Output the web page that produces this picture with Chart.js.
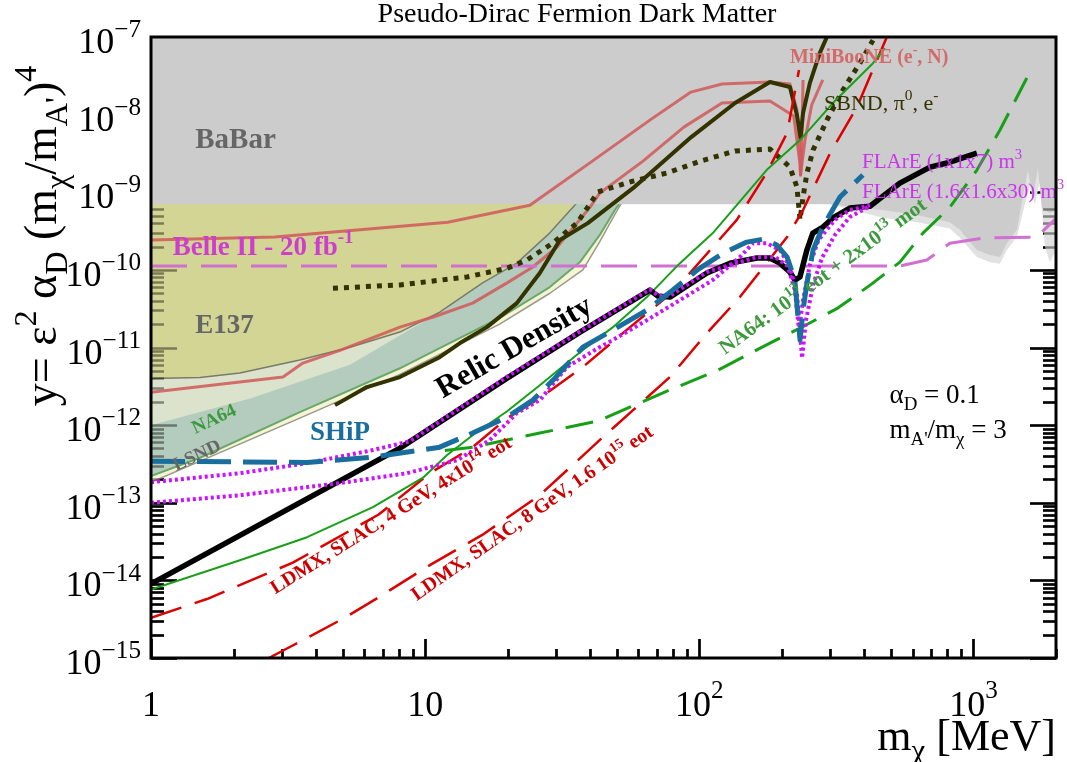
<!DOCTYPE html>
<html>
<head>
<meta charset="utf-8">
<script src="https://cdn.jsdelivr.net/npm/chart.js"></script>
<style>
  html, body { margin: 0; padding: 0; background: #ffffff; }
  #wrap { width: 1067px; height: 762px; }
</style>
</head>
<body>
<div id="wrap"><canvas id="c" width="1067" height="762"></canvas></div>
<script>
// ---- axis ticks ----
const xTickValues = [1, 10, 100, 1000];
const xTickLabels = [[['1']], [['10']], [['10'], ['2', 'sup']], [['10'], ['3', 'sup']]];
const yTickExponents = [-7, -8, -9, -10, -11, -12, -13, -14, -15];

// ---- excluded regions (lower boundaries, m_chi in MeV, y) ----
const babarLimit = [[1, 7e-10], [300, 7e-10], [467, 5.9e-10], [622, 5.1e-10], [820, 4.1e-10], [892, 3.3e-10], [1029, 1.8e-10], [1148, 1.55e-10], [1248, 1.46e-10], [1324, 2.2e-10], [1440, 3.3e-10], [1514, 8.7e-10], [1579, 1.9e-9], [1647, 8.7e-10], [1718, 2.05e-9], [1776, 6.2e-10], [1900, 5.4e-10], [2000, 5.9e-10]];
const babarHalo = [[300, 7e-10], [467, 4.7e-10], [622, 4.1e-10], [820, 3.4e-10], [892, 2.6e-10], [1029, 1.46e-10], [1148, 1.25e-10], [1248, 1.2e-10], [1324, 1.8e-10], [1440, 2.65e-10], [1540, 7e-10], [1606, 1.2e-9], [1675, 7e-10], [1747, 1.4e-9], [1821, 2.0e-10], [1900, 1.25e-10], [2000, 1.8e-10]];
const e137Limit = [[1, 4.0e-12], [1.51, 4.1e-12], [2.11, 4.7e-12], [3.49, 6.9e-12], [5.32, 1.01e-11], [8.09, 1.58e-11], [11.3, 2.86e-11], [16.2, 6.8e-11], [21.6, 1.22e-10], [28.5, 3.0e-10], [35.8, 7.3e-10]];
const lsndUpper = [[1, 1.0e-12], [2.3, 2.2e-12], [5.32, 6.0e-12], [11.3, 2.86e-11]];
const na64Limit = [[1, 2.2e-13], [1.51, 3.8e-13], [3.49, 1.47e-12], [8.09, 5.4e-12], [11.3, 9.8e-12], [18.7, 2.4e-11], [28.5, 6.0e-11], [36.7, 1.26e-10], [43.3, 2.8e-10], [49.2, 5.9e-10], [52.2, 7.9e-10]];
const lsndLimit = [[1, 1.84e-13], [3.49, 1.23e-12], [8.09, 4.5e-12], [18.7, 2.0e-11], [28.5, 5.0e-11], [37.6, 1.0e-10], [43.3, 2.3e-10], [49.2, 5.2e-10], [52.8, 7.9e-10]];

// ---- existing / projected sensitivities ----
const miniBooNEe = [[1, 2.42e-10], [2.83, 2.65e-10], [12.1, 4.1e-10], [24.1, 6.8e-10], [40.6, 2.5e-9], [66, 8.5e-9], [93.2, 1.95e-8], [121, 2.48e-8], [181, 2.63e-8], [214, 2.48e-8], [227, 1.15e-8], [233, 3.5e-9], [234, 1.67e-9], [243, 4.7e-9], [257, 1.33e-8], [282, 2.8e-8]];
const miniBooNEN = [[1, 2.66e-12], [3.03, 4.16e-12], [3.58, 6.3e-12], [4.89, 9.2e-12], [8.09, 1.83e-11], [10.7, 2.47e-11], [14.9, 3.73e-11], [19.9, 6.8e-11], [24.7, 1.09e-10], [30.3, 1.97e-10], [35.8, 4.0e-10], [39.9, 6.4e-10], [43.4, 9.8e-10], [62.3, 2.52e-9], [87.8, 6.9e-9], [121, 1.41e-8], [181, 1.5e-8], [221, 9.6e-9], [233, 2.3e-9], [234, 1.67e-9], [236.6, 4.7e-9], [239, 2.8e-8]];
const belle2 = [[1, 1.12e-10], [539, 1.12e-10], [676, 1.34e-10], [820, 2.2e-10], [1082, 2.57e-10], [1702, 2.65e-10], [2000, 4.6e-10]];
const sbndSolid = [[4.69, 1.81e-12], [6.13, 3.09e-12], [8.09, 4.16e-12], [11.3, 7.5e-12], [13.4, 1.14e-11], [16.8, 1.83e-11], [21.6, 3.73e-11], [26.2, 9.1e-11], [31, 2.42e-10], [39.2, 4.0e-10], [57.3, 1.13e-9], [93.2, 5.1e-9], [135, 1.41e-8], [181, 2.63e-8], [214, 2.27e-8], [227, 9.9e-9], [234, 5.1e-9], [239, 1.05e-8], [253, 2.55e-8], [275, 6.2e-8], [292, 1e-7]];
const sbndDotted = [[4.61, 5.8e-11], [8.09, 6.4e-11], [14.2, 8.1e-11], [19.9, 1.05e-10], [23.5, 1.34e-10], [29.2, 2.21e-10], [35.8, 4.0e-10], [42.7, 1.01e-9], [57.3, 1.39e-9], [76.2, 1.77e-9], [101, 2.52e-9], [135, 3.4e-9], [181, 3.6e-9], [214, 2.11e-9], [227, 1.17e-9], [233, 4.4e-10], [239, 8.7e-10], [247, 1.77e-9], [260, 3.5e-9], [292, 8.5e-9], [334, 2.07e-8], [385, 4.6e-8], [430, 9.1e-8]];
const ldmx4GeV = [[1, 3.3e-15], [1.6, 5.75e-15], [3.29, 1.69e-14], [6.77, 7.05e-14], [10.4, 2.4e-13], [14.9, 5.2e-13], [19.9, 1.23e-12], [26.2, 2.23e-12], [37.6, 5.6e-12], [52.6, 1.53e-11], [73.7, 4.08e-11], [92.4, 9.1e-11], [112, 1.97e-10], [137, 4.4e-10], [176, 1.77e-9], [209, 5.8e-9], [231, 3.76e-8]];
const ldmx8GeV = [[2.69, 1e-15], [3.3, 1.46e-15], [5.06, 3.26e-15], [6.79, 6.1e-15], [10.4, 1.57e-14], [16.1, 3.82e-14], [26.2, 1.25e-13], [43.3, 6.4e-13], [60.7, 1.87e-12], [78.1, 4.16e-12], [106.6, 1.53e-11], [140.6, 4.46e-11], [176, 1.22e-10], [209, 2.65e-10], [239, 5.9e-10], [300, 3.2e-9], [376, 1.25e-8], [483, 1e-7]];
const na64Solid = [[1, 7.6e-15], [2.11, 1.82e-14], [3.71, 3.6e-14], [6.45, 8.8e-14], [9.82, 2.1e-13], [12, 4.1e-13], [14.9, 7.4e-13], [19.9, 1.51e-12], [26.2, 3.27e-12], [36.7, 8.7e-12], [48.4, 1.83e-11], [64.4, 4.46e-11], [85, 1.22e-10], [112, 2.98e-10], [176, 1.93e-9], [233, 4.7e-9], [307, 1.41e-8], [430, 4.6e-8], [475, 7.2e-8]];
const na64Dashed = [[11.8, 4.7e-13], [14.9, 5.2e-13], [26.2, 7.9e-13], [42.7, 1.13e-12], [76.2, 2.74e-12], [117, 5.1e-12], [181, 1.14e-11], [241, 1.89e-11], [320, 3.22e-11], [426, 6.6e-11], [539, 1.26e-10], [654, 2.98e-10], [820, 6.4e-10], [1029, 1.93e-9], [1248, 6.3e-9], [1565, 2.96e-8]];
const relicDensity = [[1, 9e-15], [8.09, 5.06e-13], [19.9, 4.03e-12], [36.7, 1.58e-11], [66, 5.5e-11], [70.6, 4.59e-11], [78.1, 4.46e-11], [106.6, 9.1e-11], [129.4, 1.22e-10], [162.3, 1.42e-10], [180.9, 1.42e-10], [196.6, 1.22e-10], [213.8, 9.4e-11], [223.2, 7.4e-11], [232.8, 8.1e-11], [246.8, 1.8e-10], [259.4, 2.98e-10], [282.4, 3.56e-10], [307, 4.66e-10], [354, 6.26e-10], [419, 6.6e-10], [539, 1.31e-9], [694, 2.11e-9], [800, 2.38e-9], [1029, 3.2e-9]];
const flare1x1x7 = [[1, 1.84e-13], [2.11, 2.4e-13], [3.71, 3.24e-13], [6.45, 4.77e-13], [8.8, 6.2e-13], [19.9, 4.2e-12], [36.7, 1.6e-11], [66, 5.6e-11], [70.6, 4.7e-11], [78.1, 4.6e-11], [106.6, 9.4e-11], [162, 1.46e-10], [189, 1.46e-10], [210, 1.12e-10], [223, 5.5e-11], [231, 1.68e-11], [239, 4.08e-11], [253, 1.15e-10], [272, 2.42e-10], [312, 4.4e-10], [354, 5.9e-10], [419, 6.8e-10]];
const flare16x16x30 = [[1, 1.0e-13], [2.11, 1.25e-13], [4.89, 1.79e-13], [8.58, 2.4e-13], [13.1, 3.54e-13], [17.2, 6.4e-13], [21.6, 1.43e-12], [26.2, 2.1e-12], [32.9, 5.6e-12], [43.3, 1.01e-11], [48.4, 1.25e-11], [64.4, 2.25e-11], [85, 4.08e-11], [112, 7.4e-11], [140.6, 1.46e-10], [157, 2.21e-10], [176, 2.21e-10], [197, 1.8e-10], [214, 1.09e-10], [227, 5.0e-11], [237, 7.3e-12], [245, 2.25e-11], [260, 6.4e-11], [280, 1.42e-10], [312, 2.8e-10], [354, 4.8e-10], [412, 6.4e-10]];
const ship = [[1, 3.43e-13], [3.7, 3.3e-13], [6.45, 3.87e-13], [11.3, 5.2e-13], [14.9, 7.9e-13], [19.9, 1.27e-12], [24.7, 2.1e-12], [29.3, 3.8e-12], [37.6, 1.01e-11], [48.4, 1.68e-11], [64.4, 3.03e-11], [80.1, 5.5e-11], [98, 9.9e-11], [122, 1.64e-10], [149, 2.28e-10], [171, 2.49e-10], [192, 2.09e-10], [209, 1.46e-10], [223, 7.4e-11], [233, 1.25e-11], [239, 3.03e-11], [247, 6.76e-11], [260, 1.8e-10], [282, 3.56e-10], [326, 8.7e-10], [395, 1.67e-9]];

const FONT = '"Liberation Serif", "DejaVu Serif", serif';
const pts = arr => arr.map(([x, y]) => ({ x, y }));

function curve(label, data, style) {
  return Object.assign({
    label, data: pts(data), pointRadius: 0, pointHoverRadius: 0,
    borderWidth: 2, fill: false, tension: 0, borderCapStyle: 'butt', borderJoinStyle: 'round'
  }, style);
}

// bottom layer first
const datasets = [
  curve('LSND edge', lsndLimit, { fill: 'end', backgroundColor: '#f6f4d6', borderColor: '#9a9a8a', borderWidth: 1.5 }),
  curve('NA64', na64Limit, { fill: 'end', backgroundColor: '#b4ccbd', borderColor: '#6aa86a', borderWidth: 2 }),
  curve('LSND', lsndUpper, { fill: 'end', backgroundColor: '#dbe3cd', borderWidth: 0, borderColor: 'rgba(0,0,0,0)' }),
  curve('E137', e137Limit, { fill: 'end', backgroundColor: '#d3d595', borderColor: '#7a7a6a', borderWidth: 1.5 }),
  curve('BaBar halo', babarHalo, { fill: 'end', backgroundColor: '#e1e1e1', borderWidth: 0, borderColor: 'rgba(0,0,0,0)' }),
  curve('BaBar', babarLimit, { fill: 'end', backgroundColor: '#cccccc', borderWidth: 0, borderColor: 'rgba(0,0,0,0)' }),
  curve('MiniBooNE e', miniBooNEe, { borderColor: 'rgba(208,88,88,0.85)', borderWidth: 3 }),
  curve('MiniBooNE N', miniBooNEN, { borderColor: 'rgba(208,88,88,0.85)', borderWidth: 3 }),
  curve('Belle II', belle2, { borderColor: '#d070d0', borderWidth: 3, borderDash: [36, 14] }),
  curve('SBND dotted', sbndDotted, { borderColor: '#333300', borderWidth: 5, borderDash: [5, 6] }),
  curve('SBND', sbndSolid, { borderColor: '#333300', borderWidth: 4 }),
  curve('LDMX 8 GeV', ldmx8GeV, { borderColor: '#dd0000', borderWidth: 2.5, borderDash: [32, 14] }),
  curve('LDMX 4 GeV', ldmx4GeV, { borderColor: '#dd0000', borderWidth: 2.5, borderDash: [32, 14] }),
  curve('NA64 dashed', na64Dashed, { borderColor: '#17a017', borderWidth: 3, borderDash: [28, 13] }),
  curve('NA64 solid', na64Solid, { borderColor: '#17a017', borderWidth: 2 }),
  curve('Relic Density', relicDensity, { borderColor: '#000000', borderWidth: 5.5 }),
  curve('FLArE 1.6x1.6x30', flare16x16x30, { borderColor: '#cc11ff', borderWidth: 4, borderDash: [3, 3] }),
  curve('FLArE 1x1x7', flare1x1x7, { borderColor: '#cc11ff', borderWidth: 4, borderDash: [3, 3] }),
  curve('SHiP', ship, { borderColor: '#1a6e9e', borderWidth: 5, borderDash: [34, 12] })
];
datasets.forEach((d, i) => { d.order = datasets.length - i; });

// ---- rich text with super/subscripts ----
function drawRich(ctx, parts, x, y, o) {
  ctx.save();
  ctx.translate(x, y);
  if (o.angle) ctx.rotate(o.angle * Math.PI / 180);
  ctx.fillStyle = o.color || '#000';
  ctx.textBaseline = 'alphabetic';
  ctx.textAlign = 'left';
  const scriptScale = o.scriptScale || 0.7;
  const segs = parts.map(p => {
    const kind = p[1] || 'n';
    const s = kind === 'n' ? o.size : o.size * scriptScale;
    const dy = kind === 'sup' ? -o.size * (o.supRaise || 0.44) : kind === 'sub' ? o.size * (o.subDrop || 0.24) : 0;
    const font = `${o.weight || 'normal'} ${s}px ${FONT}`;
    ctx.font = font;
    return { t: p[0], font, dy, w: ctx.measureText(p[0]).width };
  });
  const total = segs.reduce((a, s) => a + s.w, 0);
  let cx = o.align === 'center' ? -total / 2 : o.align === 'right' ? -total : 0;
  for (const s of segs) {
    ctx.font = s.font;
    ctx.fillText(s.t, cx, s.dy);
    cx += s.w;
  }
  ctx.restore();
  return total;
}

// ---- text placed in data coordinates ----
const annotations = [
  { parts: [['BaBar']], x: 1.45, y: 3.7e-9, size: 29, weight: 'bold', color: '#666666' },
  { parts: [['Belle II - 20 fb'], ['-1', 'sup']], x: 1.2, y: 1.55e-10, size: 27, weight: 'bold', color: '#cc3fcc' },
  { parts: [['E137']], x: 1.45, y: 1.53e-11, size: 27, weight: 'bold', color: '#666666' },
  { parts: [['NA64']], x: 1.73, y: 1.03e-12, size: 19, weight: 'bold', color: '#3c9a3c', angle: -25, align: 'center' },
  { parts: [['LSND']], x: 1.5, y: 3.5e-13, size: 19, weight: 'bold', color: '#666666', angle: -25, align: 'center' },
  { parts: [['SHiP']], x: 3.8, y: 6.4e-13, size: 27, weight: 'bold', color: '#1a6e9e' },
  { parts: [['Relic Density']], x: 11.6, y: 2.2e-12, size: 31, weight: 'bold', color: '#000000', angle: -30 },
  { parts: [['MiniBooNE (e'], ['-', 'sup'], [', N)']], x: 214, y: 4.6e-8, size: 20, weight: 'bold', color: '#d46a6a' },
  { parts: [['SBND, π'], ['0', 'sup'], [', e'], ['-', 'sup']], x: 285, y: 1.15e-8, size: 22, color: '#333300' },
  { parts: [['FLArE (1x1x7) m'], ['3', 'sup']], x: 392, y: 2.05e-9, size: 21, color: '#cc33ee' },
  { parts: [['FLArE (1.6x1.6x30) m'], ['3', 'sup']], x: 392, y: 8.4e-10, size: 21, color: '#cc33ee' },
  { parts: [['NA64: 10'], ['13', 'sup'], [' eot + 2x10'], ['13', 'sup'], [' mot']], x: 124, y: 8.0e-12, size: 21, weight: 'bold', color: '#3c9a3c', angle: -36 },
  { parts: [['LDMX, SLAC, 4 GeV, 4x10'], ['14', 'sup'], [' eot']], x: 2.84, y: 6.6e-15, size: 20, weight: 'bold', color: '#cc0000', angle: -32 },
  { parts: [['LDMX, SLAC, 8 GeV, 1.6 10'], ['15', 'sup'], [' eot']], x: 9.31, y: 5.4e-15, size: 20, weight: 'bold', color: '#cc0000', angle: -35 },
  { parts: [['α'], ['D', 'sub'], [' = 0.1']], x: 494, y: 1.92e-12, size: 27, color: '#000000' },
  { parts: [['m'], ["A'", 'sub'], ['/m'], ['χ', 'sub'], [' = 3']], x: 494, y: 6.8e-13, size: 27, color: '#000000' }
];

function drawTicks(chart, color, maxY) {
  const { ctx, chartArea: a, scales: { x, y } } = chart;
  ctx.save();
  ctx.strokeStyle = color;
  ctx.lineWidth = 2.6;
  ctx.beginPath();
  for (let e = -15; e <= -8; e++) {
    for (let m = 1; m <= 9; m++) {
      const v = m * Math.pow(10, e);
      if (v > maxY) continue;
      const py = Math.round(y.getPixelForValue(v)) + 0.5;
      const len = m === 1 ? 26 : 13;
      ctx.moveTo(a.left, py); ctx.lineTo(a.left + len, py);
      ctx.moveTo(a.right, py); ctx.lineTo(a.right - len, py);
    }
  }
  for (let e = 0; e <= 3; e++) {
    for (let m = 1; m <= 9; m++) {
      const v = m * Math.pow(10, e);
      if (v > 2000) break;
      const px = Math.round(x.getPixelForValue(v)) + 0.5;
      const len = m === 1 ? 19 : 9;
      ctx.moveTo(px, a.bottom); ctx.lineTo(px, a.bottom - len);
    }
  }
  ctx.stroke();
  ctx.restore();
}

const decor = {
  id: 'decor',
  beforeDatasetsDraw(chart) { drawTicks(chart, '#000000', 1e-7); },
  afterDatasetDraw(chart, args) {
    if (chart.data.datasets[args.index].label === 'BaBar') {
      drawTicks(chart, 'rgba(0,0,0,0.42)', babarLimit[0][1]);
    }
  },
  afterDatasetsDraw(chart) {
    const { ctx, scales: { x, y } } = chart;
    for (const a of annotations) {
      drawRich(ctx, a.parts, x.getPixelForValue(a.x), y.getPixelForValue(a.y), a);
    }
  },
  afterDraw(chart) {
    const { ctx, chartArea: a, scales: { x, y } } = chart;
    // frame
    ctx.save();
    ctx.strokeStyle = '#000';
    ctx.lineWidth = 3;
    ctx.strokeRect(a.left, a.top, a.right - a.left, a.bottom - a.top);
    ctx.restore();
    // y tick labels
    for (const e of yTickExponents) {
      const py = y.getPixelForValue(Math.pow(10, e));
      drawRich(ctx, [['10'], ['\u2212' + Math.abs(e), 'sup']], a.left - 10, py + 16, { size: 36, align: 'right', supRaise: 0.44 });
    }
    // x tick labels
    xTickValues.forEach((v, i) => {
      drawRich(ctx, xTickLabels[i], x.getPixelForValue(v), a.bottom + 58, { size: 36, align: 'center', supRaise: 0.5 });
    });
    // axis titles
    drawRich(ctx, [['m'], ['χ', 'sub'], [' [MeV]']], a.right, a.bottom + 92, { size: 44, align: 'right', subDrop: 0.25 });
    drawRich(ctx, [['y= ε'], ['2', 'sup'], [' α'], ['D', 'sub'], [' (m'], ['χ', 'sub'], ['/m'], ["A'", 'sub'], [')'], ['4', 'sup']],
      56, 236, { size: 46, align: 'center', angle: -90 });
    // title
    drawRich(ctx, [['Pseudo-Dirac Fermion Dark Matter']], 577, 22, { size: 28, align: 'center' });
  }
};

new Chart(document.getElementById('c'), {
  type: 'line',
  data: { datasets },
  options: {
    responsive: false,
    animation: false,
    devicePixelRatio: 1,
    layout: { padding: { left: 151, right: 11, top: 37, bottom: 104 } },
    plugins: { legend: { display: false }, tooltip: { enabled: false }, title: { display: false } },
    scales: {
      x: { type: 'logarithmic', min: 1, max: 2000, display: false },
      y: { type: 'logarithmic', min: 1e-15, max: 1e-7, display: false }
    }
  },
  plugins: [decor]
});
</script>
</body>
</html>
